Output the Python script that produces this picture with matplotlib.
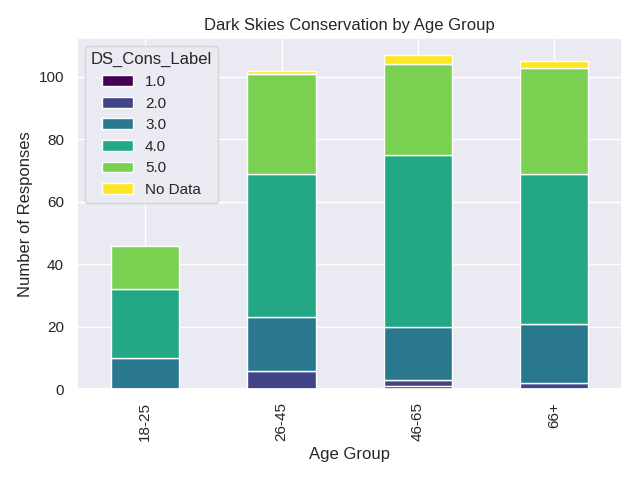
import matplotlib
matplotlib.use("Agg")
import matplotlib.pyplot as plt
import seaborn as sns
import pandas as pd

sns.set_theme(style="darkgrid")
plt.rcParams["font.family"] = ["Liberation Sans", "DejaVu Sans"]

age_groups = ["18-25", "26-45", "46-65", "66+"]
labels = ["1.0", "2.0", "3.0", "4.0", "5.0", "No Data"]
v1 = [0, 0, 1, 0]
v2 = [0, 6, 2, 2]
v3 = [10, 17, 17, 19]
v4 = [22, 46, 55, 48]
v5 = [14, 32, 29, 34]
vnd = [0, 1, 3, 2]

df = pd.DataFrame({l: v for l, v in zip(labels, [v1, v2, v3, v4, v5, vnd])}, index=age_groups)
df.index.name = "Age Group"
df.columns.name = "DS_Cons_Label"

fig, ax = plt.subplots(figsize=(6.4, 4.8), dpi=100)
df.plot(kind="bar", stacked=True, colormap="viridis", ax=ax)
ax.set_title("Dark Skies Conservation by Age Group")
ax.set_xlabel("Age Group")
ax.set_ylabel("Number of Responses")
fig.tight_layout()
fig.savefig("out.png")
